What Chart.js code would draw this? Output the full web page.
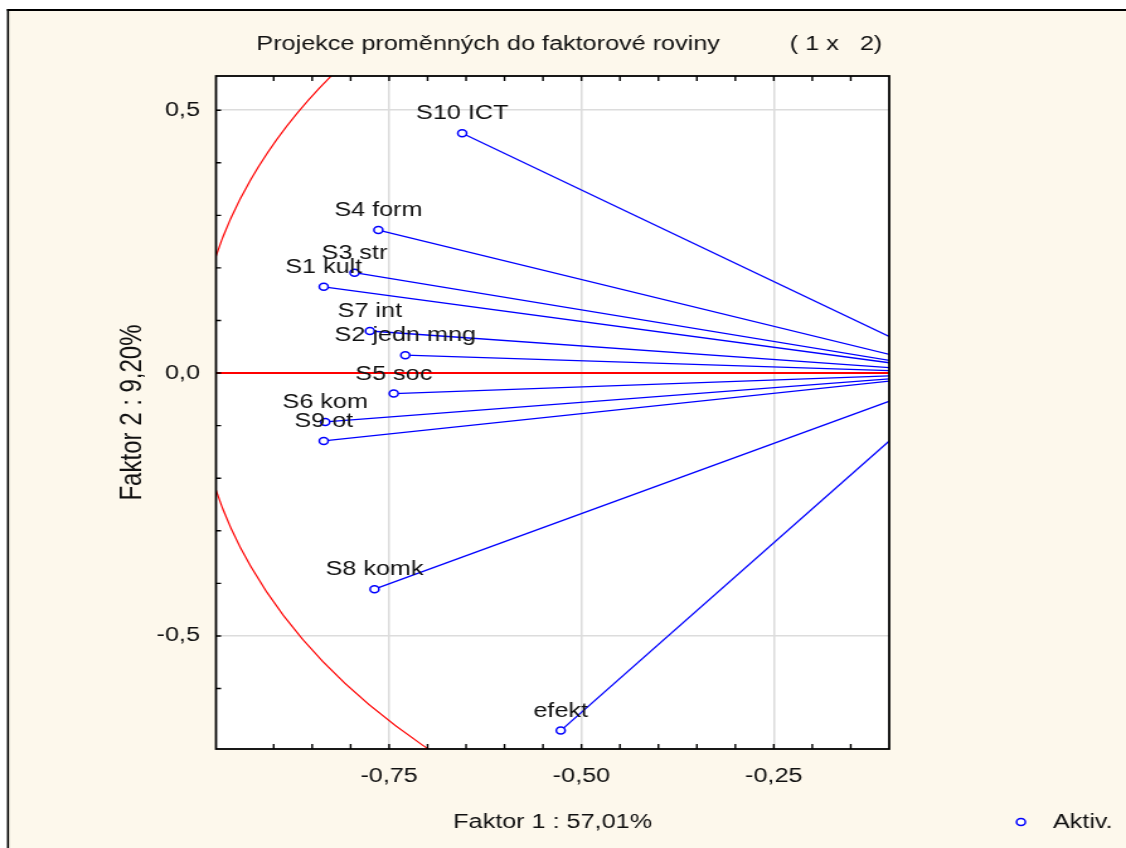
<!DOCTYPE html>
<html><head><meta charset="utf-8">
<script src="https://cdn.jsdelivr.net/npm/chart.js@4.4.1/dist/chart.umd.min.js"></script>
<style>
html,body{margin:0;padding:0;background:#fff;overflow:hidden;}
#wrap{position:absolute;left:0;top:0;width:894px;height:848px;transform:scale(1.2595,1);transform-origin:0 0;}
canvas{display:block;}
</style></head><body>
<div id="wrap"><canvas id="c" width="894" height="848"></canvas></div>
<script>
// ---- data ----
const variableNames = ['S10 ICT','S4 form','S3 str','S1 kult','S7 int','S2 jedn mng','S5 soc','S6 kom','S9 ot','S8 komk','efekt'];
const factor1 = [-0.655,-0.764,-0.795,-0.835,-0.775,-0.729,-0.744,-0.833,-0.835,-0.769,-0.527];
const factor2 = [0.456,0.272,0.191,0.164,0.080,0.034,-0.039,-0.093,-0.129,-0.411,-0.680];
const xTickValues = [-0.75,-0.5,-0.25];
const xTickLabels = ['-0,75','-0,50','-0,25'];
const yTickValues = [0.5,0,-0.5];
const yTickLabels = ['0,5','0,0','-0,5'];
const titleText = 'Projekce proměnných do faktorové roviny          ( 1 x   2) ';
const xTitle = 'Faktor 1 : 57,01%';
const yTitle = 'Faktor 2 : 9,20%';
const legendLabel = 'Aktiv.';

const FONT = '"Liberation Sans", Arial, sans-serif';
const TXT = '#111';
const BLUE = '#0000ff';
const RED = '#ff0000';

function findIdx(v, arr){ for(let i=0;i<arr.length;i++){ if(Math.abs(arr[i]-v)<1e-6) return i; } return -1; }

const markerData = factor1.map((x,i)=>({x:x, y:factor2[i]}));
const datasets = [{
  label: legendLabel,
  data: markerData,
  showLine: false,
  pointStyle: 'circle',
  pointRadius: 3.5,
  pointHoverRadius: 3.5,
  pointBorderWidth: 1.5,
  borderWidth: 1.5,
  borderColor: BLUE,
  backgroundColor: '#ffffff',
  pointBackgroundColor: '#ffffff',
  order: 0
}];
variableNames.forEach((name,i)=>{
  datasets.push({
    label: name,
    data: [{x:factor1[i], y:factor2[i]}, {x:0, y:0}],
    showLine: true,
    borderColor: BLUE,
    borderWidth: 1.3,
    pointRadius: 0,
    pointHoverRadius: 0,
    fill: false,
    order: 1
  });
});
const markerIndex = 0;

const deco = {
  id: 'deco',
  beforeDraw(chart){
    const {ctx, width, height, chartArea:a} = chart;
    ctx.save();
    ctx.fillStyle = '#ffffff'; ctx.fillRect(0,0,width,height);
    ctx.fillStyle = '#fdf8ec'; ctx.fillRect(6.35,10,width,height);
    ctx.strokeStyle = '#000'; ctx.lineWidth = 1.6;
    ctx.beginPath(); ctx.moveTo(6.35,9); ctx.lineTo(6.35,height); ctx.stroke();
    ctx.lineWidth = 2;
    ctx.beginPath(); ctx.moveTo(5.5,10); ctx.lineTo(width,10); ctx.stroke();
    ctx.fillStyle = '#ffffff'; ctx.fillRect(a.left,a.top,a.width,a.height);
    ctx.restore();
  },
  beforeDatasetsDraw(chart){
    const {ctx, chartArea:a, scales:{x,y}} = chart;
    ctx.save();
    ctx.beginPath(); ctx.rect(a.left,a.top,a.width,a.height); ctx.clip();
    const cx = x.getPixelForValue(0), cy = y.getPixelForValue(0);
    const rx = Math.abs(x.getPixelForValue(1)-cx), ry = Math.abs(y.getPixelForValue(1)-cy);
    ctx.strokeStyle = RED; ctx.lineWidth = 1.2;
    ctx.beginPath(); ctx.ellipse(cx,cy,rx,ry,0,0,Math.PI*2); ctx.stroke();
    ctx.lineWidth = 2;
    ctx.beginPath(); ctx.moveTo(a.left,cy); ctx.lineTo(a.right,cy); ctx.stroke();
    ctx.beginPath(); ctx.moveTo(cx,a.top); ctx.lineTo(cx,a.bottom); ctx.stroke();
    ctx.restore();
  },
  afterDatasetsDraw(chart){
    const {ctx, chartArea:a, scales:{x,y}} = chart;
    const meta = chart.getDatasetMeta(markerIndex);
    ctx.save();
    ctx.font = '20px ' + FONT;
    ctx.fillStyle = TXT; ctx.textAlign = 'center'; ctx.textBaseline = 'alphabetic';
    meta.data.forEach((pt,i)=>{ ctx.fillText(variableNames[i], pt.x, pt.y-14); });
    // frame
    ctx.strokeStyle = '#000'; ctx.lineWidth = 1.8;
    ctx.strokeRect(a.left,a.top,a.width,a.height);
    // inward tick marks
    ctx.lineWidth = 1.4;
    ctx.beginPath();
    x.ticks.forEach(t=>{
      const px = x.getPixelForValue(t.value);
      if(px<=a.left+1 || px>=a.right-1) return;
      ctx.moveTo(px,a.bottom); ctx.lineTo(px,a.bottom-5);
      ctx.moveTo(px,a.top); ctx.lineTo(px,a.top+5);
    });
    y.ticks.forEach(t=>{
      const py = y.getPixelForValue(t.value);
      if(py<=a.top+1 || py>=a.bottom-1) return;
      ctx.moveTo(a.left,py); ctx.lineTo(a.left+4,py);
    });
    ctx.stroke();
    ctx.restore();
  },
  afterDraw(chart){
    const {ctx} = chart;
    const ds = chart.data.datasets[markerIndex];
    ctx.save();
    ctx.strokeStyle = ds.borderColor; ctx.fillStyle = ds.backgroundColor; ctx.lineWidth = ds.pointBorderWidth;
    ctx.beginPath(); ctx.arc(810.6, 822, ds.pointRadius, 0, Math.PI*2); ctx.fill(); ctx.stroke();
    ctx.fillStyle = TXT; ctx.font = '20px ' + FONT; ctx.textAlign = 'left'; ctx.textBaseline = 'middle';
    ctx.fillText(ds.label, 836, 822);
    ctx.restore();
  }
};

Chart.defaults.font.family = FONT;
new Chart(document.getElementById('c'), {
  type: 'scatter',
  data: { datasets: datasets },
  plugins: [deco],
  options: {
    responsive: false,
    animation: false,
    events: [],
    layout: { padding: { left: 0, top: 0, right: 188, bottom: 0 } },
    plugins: {
      legend: { display: false },
      tooltip: { enabled: false },
      title: {
        display: true, text: titleText, align: 'end', color: TXT,
        font: { family: FONT, size: 20, weight: 'normal' },
        padding: { top: 32, bottom: 20 }
      }
    },
    scales: {
      x: {
        type: 'linear', position: 'bottom', min: -0.975, max: -0.1,
        afterFit(s){ s.height = 99; },
        border: { display: false },
        grid: { drawTicks: false, lineWidth: 1.5,
          color: c => (c.tick && findIdx(c.tick.value, xTickValues) >= 0) ? '#dcdcdc' : 'rgba(0,0,0,0)' },
        ticks: { stepSize: 0.05, autoSkip: false, maxRotation: 0, minRotation: 0, padding: 15, color: TXT,
          font: { family: FONT, size: 20 },
          callback: v => { const i = findIdx(v, xTickValues); return i >= 0 ? xTickLabels[i] : ''; } },
        title: { display: true, text: xTitle, color: TXT, font: { family: FONT, size: 20 }, padding: { top: 0, bottom: 14 } }
      },
      y: {
        type: 'linear', position: 'left', min: -0.715, max: 0.565,
        afterFit(s){ s.width = 171.5; },
        border: { display: false },
        grid: { drawTicks: false, lineWidth: 1.5,
          color: c => (c.tick && findIdx(c.tick.value, yTickValues) >= 0) ? '#dcdcdc' : 'rgba(0,0,0,0)' },
        ticks: { stepSize: 0.1, autoSkip: false, padding: 12.7, color: TXT,
          font: { family: FONT, size: 20 },
          callback: v => { const i = findIdx(v, yTickValues); return i >= 0 ? yTickLabels[i] : ''; } },
        title: { display: true, text: yTitle, color: TXT, font: { family: FONT, size: 24 }, padding: { top: 91.2, bottom: 0 } }
      }
    }
  }
});
</script>
</body></html>
